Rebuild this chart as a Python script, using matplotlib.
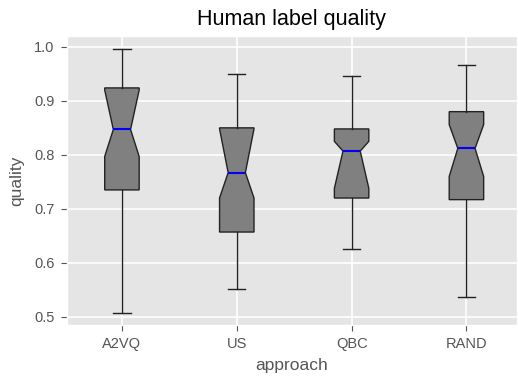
import matplotlib
matplotlib.use("Agg")
import matplotlib.pyplot as plt

plt.style.use("ggplot")
plt.rcParams["font.family"] = ["Liberation Sans", "DejaVu Sans"]

approaches = ["A2VQ", "US", "QBC", "RAND"]
whislo = [0.507, 0.552, 0.626, 0.536]
q1 = [0.735, 0.657, 0.720, 0.717]
cilo = [0.797, 0.720, 0.738, 0.760]
med = [0.847, 0.767, 0.807, 0.812]
cihi = [0.920, 0.848, 0.825, 0.856]
q3 = [0.924, 0.850, 0.848, 0.880]
whishi = [0.997, 0.950, 0.946, 0.967]

stats = []
for i, name in enumerate(approaches):
    stats.append(dict(label=name, whislo=whislo[i], q1=q1[i], cilo=cilo[i],
                      med=med[i], cihi=cihi[i], q3=q3[i], whishi=whishi[i],
                      fliers=[]))

fig = plt.figure(figsize=(5.18, 3.76), dpi=100)
ax = fig.add_axes([0.129, 0.136, 0.869, 0.768])

ax.bxp(stats, shownotches=True, widths=0.3, patch_artist=True,
       boxprops=dict(facecolor="gray", edgecolor="#222222", linewidth=1),
       medianprops=dict(color="blue", linewidth=1.5),
       whiskerprops=dict(color="#222222", linewidth=1),
       capprops=dict(color="#222222", linewidth=1))

ax.set_xlim(0.52, 4.44)
ax.set_ylim(0.485, 1.02)
ax.set_yticks([0.5, 0.6, 0.7, 0.8, 0.9, 1.0])
ax.set_facecolor("#E5E5E5")
ax.grid(True, color="white", linewidth=1.2)
ax.tick_params(labelsize=10.5, colors="#555555", pad=5, length=4)
ax.set_title("Human label quality", fontsize=15.5, color="black", pad=8)
ax.set_xlabel("approach", fontsize=12.5, color="#555555", labelpad=5)
ax.set_ylabel("quality", fontsize=12.5, color="#555555", labelpad=7)

fig.savefig("out.png", dpi=100)
